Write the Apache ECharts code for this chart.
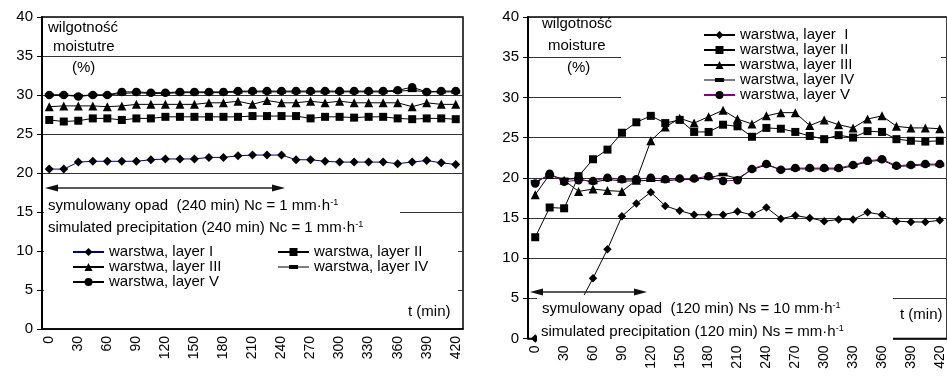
<!DOCTYPE html>
<html>
<head>
<meta charset="utf-8">
<script src="https://cdn.jsdelivr.net/npm/echarts@6/dist/echarts.min.js"></script>
<style>
  html, body { margin: 0; padding: 0; background: #fff; }
  #chart { width: 947px; height: 376px; }
</style>
</head>
<body>
<div id="chart"></div>
<script>
// czas (min) – kategorie osi x
const times = ['0','15','30','45','60','75','90','105','120','135','150','165','180','195','210',
  '225','240','255','270','285','300','315','330','345','360','375','390','405','420']
const yTicks = [0, 40, 5] // min, max, step

// lewy wykres – opad 240 min, Nc = 1 mm/h
const leftI   = [20.5,20.5,21.4,21.5,21.5,21.5,21.5,21.7,21.8,21.8,21.8,22.0,22.0,22.2,22.3,22.3,22.3,21.7,21.7,21.5,21.4,21.4,21.4,21.4,21.2,21.4,21.6,21.3,21.1]
const leftII  = [26.8,26.6,26.7,27.0,27.0,26.8,27.0,27.0,27.2,27.2,27.2,27.2,27.2,27.2,27.3,27.3,27.3,27.3,27.0,27.2,27.2,27.1,27.2,27.2,27.0,26.9,27.0,27.0,26.9]
const leftIII = [28.5,28.6,28.6,28.6,28.5,28.6,28.8,28.8,28.8,28.8,28.8,29.0,29.0,29.2,28.8,29.3,29.0,29.0,29.2,29.0,29.2,29.0,29.0,29.0,29.0,28.5,29.0,28.8,28.8]
const leftIV  = [30.0,30.0,29.9,30.0,30.0,30.2,30.3,30.2,30.2,30.3,30.3,30.3,30.3,30.4,30.4,30.4,30.4,30.4,30.4,30.4,30.4,30.4,30.4,30.4,30.5,30.6,30.4,30.4,30.4]
const leftV   = [30.0,30.0,29.8,30.0,30.0,30.4,30.4,30.3,30.3,30.4,30.4,30.4,30.4,30.5,30.5,30.5,30.5,30.5,30.5,30.5,30.5,30.5,30.5,30.5,30.6,31.0,30.4,30.5,30.5]

// prawy wykres – opad 120 min, Ns = 10 mm/h
const rightI   = [0,0.4,1.6,4.1,7.5,11.1,15.2,16.8,18.2,16.5,15.9,15.4,15.4,15.4,15.8,15.4,16.3,14.9,15.3,15.0,14.6,14.8,14.8,15.7,15.4,14.6,14.5,14.5,14.7]
const rightII  = [12.6,16.3,16.2,20.2,22.3,23.5,25.6,26.9,27.7,26.8,27.2,25.7,25.7,26.6,26.4,25.1,26.2,26.1,25.7,25.2,24.8,25.3,25.0,25.8,25.7,24.8,24.6,24.5,24.6]
const rightIII = [17.9,20.4,19.7,18.3,18.6,18.4,18.3,19.7,24.6,26.3,27.4,26.8,27.6,28.4,27.3,26.7,27.7,28.1,28.1,26.5,27.2,26.6,26.2,27.3,27.7,26.4,26.2,26.2,26.1]
const rightIV  = [19.5,20.3,19.8,19.9,19.4,19.8,19.6,19.6,19.7,19.6,19.8,19.8,20.0,20.4,19.9,21.0,21.6,21.0,21.1,21.1,21.1,21.1,21.5,22.0,22.2,21.4,21.5,21.6,21.6]
const rightV   = [19.3,20.5,19.5,19.7,19.6,20.0,19.8,19.8,20.0,19.8,19.9,19.9,20.2,19.6,19.7,21.1,21.7,21.0,21.2,21.2,21.2,21.2,21.6,22.1,22.3,21.5,21.6,21.7,21.7]

const legendNames = {
  L1: 'warstwa, layer I', L2: 'warstwa, layer II', L3: 'warstwa, layer III', L4: 'warstwa, layer IV', L5: 'warstwa, layer V',
  R1: 'warstwa, layer  I', R2: 'warstwa, layer II', R3: 'warstwa, layer III', R4: 'warstwa, layer IV', R5: 'warstwa, layer V'
}

const FONT = "'Liberation Sans', Arial, sans-serif"
const dash = 'path://M0,0H10V4H0Z'
// ikona legendy dla warstwy IV: linia + płaski prostokąt
const dashIcon = 'path://M0,0h0.01v0.01h-0.01z M0,10h0.01v-0.01h-0.01z M0,4.5H31V5.5H0Z M11,3H20V7H11Z'

function line(name, data, grid, symbol, size, lineColor) {
  return {
    name: name, type: 'line', data: data,
    xAxisIndex: grid, yAxisIndex: grid,
    symbol: symbol, symbolSize: size, symbolKeepAspect: true,
    showSymbol: true,
    itemStyle: { color: '#000' },
    lineStyle: { color: lineColor || '#000', width: 1 },
    emphasis: { disabled: true }
  }
}

function xAx(grid) {
  return {
    type: 'category', gridIndex: grid, data: times, boundaryGap: true,
    axisLine: { lineStyle: { color: '#000', width: 1.5 } },
    axisTick: { interval: 0, length: 5, lineStyle: { color: '#000' } },
    axisLabel: { interval: 1, rotate: 90, fontSize: 14, color: '#000', fontFamily: FONT, margin: 7 },
    splitLine: { show: false }
  }
}
function yAx(grid) {
  return {
    type: 'value', gridIndex: grid, min: yTicks[0], max: yTicks[1], interval: yTicks[2],
    axisLine: { show: true, lineStyle: { color: '#000', width: 2 } },
    axisTick: { show: true, length: 5, lineStyle: { color: '#000' } },
    axisLabel: { fontSize: 15, color: '#000', fontFamily: FONT, margin: 9 },
    splitLine: { lineStyle: { color: '#333', width: 1 } }
  }
}

const richSup = {
  b: { fontSize: 15, fontFamily: FONT, fill: '#000' },
  s: { fontSize: 9, fontFamily: FONT, fill: '#000', verticalAlign: 'top', padding: [0, 0, 6, 0] }
}
function txt(x, y, s) {
  return {
    type: 'text', x: x, y: y, z: 20,
    style: { text: s, fill: '#000', font: '15px ' + FONT, verticalAlign: 'middle', rich: richSup }
  }
}
function box(x, y, w, h) {
  return { type: 'rect', z: 10, shape: { x: x, y: y, width: w, height: h }, style: { fill: '#fff' } }
}
function arrow(x1, x2, y) {
  return [
    { type: 'line', z: 11, shape: { x1: x1 + 10, y1: y, x2: x2 - 10, y2: y }, style: { stroke: '#222', lineWidth: 1.5 } },
    { type: 'polygon', z: 11, shape: { points: [[x1, y], [x1 + 13, y - 3.5], [x1 + 13, y + 3.5]] }, style: { fill: '#111' } },
    { type: 'polygon', z: 11, shape: { points: [[x2, y], [x2 - 13, y - 3.5], [x2 - 13, y + 3.5]] }, style: { fill: '#111' } }
  ]
}

const legendBase = {
  orient: 'vertical', padding: 0, itemWidth: 31, itemHeight: 10, itemGap: 0,
  selectedMode: false, z: 30,
  textStyle: { fontSize: 15, color: '#000', fontFamily: FONT, lineHeight: 14.3 },
  formatter: function (n) { return legendNames[n] }
}

const chart = echarts.init(document.getElementById('chart'))
chart.setOption({
  animation: false,
  grid: [
    { left: 42, top: 17, width: 421, height: 312, show: true, borderColor: '#000', borderWidth: 1.5, backgroundColor: '#fff' },
    { left: 528, top: 17, width: 423.4, height: 321.5, show: true, borderColor: '#000', borderWidth: 1.5, backgroundColor: '#fff' }
  ],
  xAxis: [xAx(0), xAx(1)],
  yAxis: [yAx(0), yAx(1)],
  legend: [
    Object.assign({}, legendBase, { left: 72, top: 244.5, data: ['L1', 'L3', 'L5'] }),
    Object.assign({}, legendBase, { left: 277, top: 244.5, data: ['L2', { name: 'L4', icon: dashIcon }] }),
    Object.assign({}, legendBase, { left: 703, top: 27.5, data: ['R1', 'R2', 'R3', { name: 'R4', icon: dashIcon }, 'R5'],
      textStyle: { fontSize: 15, color: '#000', fontFamily: FONT, lineHeight: 15 } })
  ],
  series: [
    line('L1', leftI, 0, 'diamond', 9, '#000080'),
    line('L2', leftII, 0, 'rect', 8),
    line('L3', leftIII, 0, 'triangle', 9),
    line('L4', leftIV, 0, dash, 9),
    line('L5', leftV, 0, 'circle', 8.5),
    line('R1', rightI, 1, 'diamond', 8.5),
    line('R2', rightII, 1, 'rect', 8),
    line('R3', rightIII, 1, 'triangle', 9),
    line('R4', rightIV, 1, dash, 9),
    line('R5', rightV, 1, 'circle', 8.5, '#800080')
  ],
  graphic: [
    // białe pola zasłaniające siatkę pod opisami
    box(44, 195, 356, 42),
    box(44, 238, 414, 62),
    box(621, 19, 320, 83),
    box(537, 295, 356, 49),
    txt(48, 28, 'wilgotność'),
    txt(53, 47, 'moistutre'),
    txt(72, 68, '(%)'),
    txt(48, 206, '{b|symulowany opad  (240 min) Nc = 1 mm·h}{s|-1}'),
    txt(48, 228, '{b|simulated precipitation (240 min) Nc = 1 mm·h}{s|-1}'),
    txt(408, 312, 't (min)'),
    txt(542, 24, 'wilgotność'),
    txt(548, 46, 'moisture'),
    txt(567, 68, '(%)'),
    txt(542, 309, '{b|symulowany opad  (120 min) Ns = 10 mm·h}{s|-1}'),
    txt(541, 332, '{b|simulated precipitation (120 min) Ns = mm·h}{s|-1}'),
    txt(900, 315, 't (min)')
  ].concat(arrow(45, 285, 188), arrow(530, 647, 292))
})
</script>
</body>
</html>
